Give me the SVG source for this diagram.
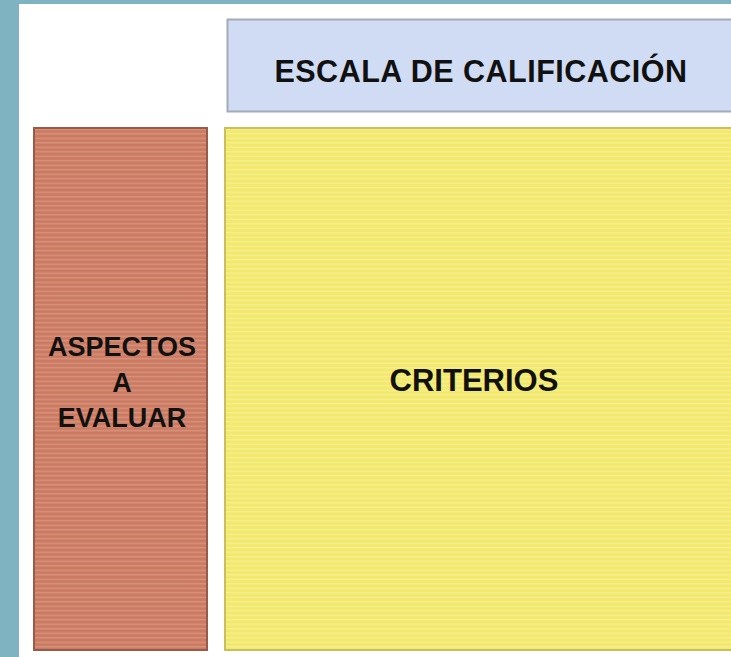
<svg xmlns="http://www.w3.org/2000/svg" width="731" height="657" viewBox="0 0 731 657">
<style>
.t{font-family:"Liberation Sans",Arial,sans-serif;font-weight:bold;fill:#111;text-anchor:middle}
</style>
<defs>
<pattern id="sr" width="8" height="4.5" patternUnits="userSpaceOnUse">
<rect width="8" height="4.5" fill="#cb7a62"/>
<rect y="2.5" width="8" height="1.5" fill="#d8927b"/>
</pattern>
<pattern id="sy" width="8" height="4.5" patternUnits="userSpaceOnUse">
<rect width="8" height="4.5" fill="#f1e86c"/>
<rect y="2.5" width="8" height="1.5" fill="#f6ef8e"/>
</pattern>
</defs>
<rect width="731" height="657" fill="#7fb3c2"/>
<rect x="19" y="4" width="712" height="653" fill="#ffffff"/>
<g id="escala">
<rect x="227.5" y="19.5" width="510" height="92" fill="#d0dcf4" stroke="#a3aab8" stroke-width="2"/>
<text class="t" x="481" y="82" font-size="30.5" letter-spacing="0.5">ESCALA DE CALIFICACIÓN</text>
</g>
<g id="aspectos">
<rect x="34" y="128" width="173" height="522" fill="url(#sr)" stroke="#9a5a48" stroke-width="2"/>
<text class="t" x="122" y="356" font-size="27">ASPECTOS</text>
<text class="t" x="122" y="392" font-size="27">A</text>
<text class="t" x="122" y="427" font-size="27">EVALUAR</text>
</g>
<g id="criterios">
<rect x="225" y="128" width="512" height="522" fill="url(#sy)" stroke="#c8c05a" stroke-width="2"/>
<text class="t" x="474" y="391" font-size="31">CRITERIOS</text>
</g>
<g id="connectors"/>
</svg>
